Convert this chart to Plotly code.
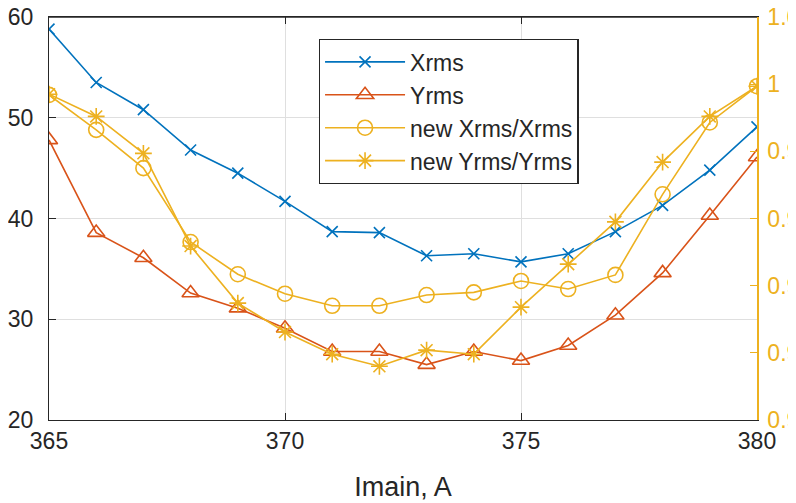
import plotly.graph_objects as go

imain = [365, 366, 367, 368, 369, 370, 371, 372, 373, 374, 375, 376, 377, 378, 379, 380]
xrms = [58.8, 53.5, 50.8, 46.8, 44.5, 41.7, 38.7, 38.6, 36.3, 36.5, 35.7, 36.5, 38.7, 41.3, 44.8, 49.1]
yrms = [47.8, 38.6, 36.1, 32.6, 31.1, 29.1, 26.8, 26.8, 25.5, 26.8, 25.9, 27.4, 30.4, 34.6, 40.3, 46.1]
new_x_ratio = [0.9984, 0.9932, 0.9875, 0.9765, 0.9717, 0.9688, 0.9670, 0.9670,
               0.9686, 0.9690, 0.9707, 0.9695, 0.9716, 0.9836, 0.9943, 0.9997]
new_y_ratio = [0.9985, 0.9952, 0.9897, 0.9759, 0.9674, 0.9631, 0.9598, 0.9580,
               0.9604, 0.9598, 0.9668, 0.9732, 0.9795, 0.9884, 0.9952, 0.9997]

left_ticks = [20, 30, 40, 50, 60]
right_ticks = [0.95, 0.96, 0.97, 0.98, 0.99, 1.0, 1.01]
right_labels = ["0.95", "0.96", "0.97", "0.98", "0.99", "1", "1.01"]
x_ticks = [365, 370, 375, 380]

BLUE = "#0072BD"
RED = "#D95319"
YEL = "#EDB120"
AX = "#262626"
FONT = "Liberation Sans, Arial, sans-serif"

fig = go.Figure()
fig.add_trace(go.Scatter(x=imain, y=xrms, name="Xrms", mode="lines+markers",
                         line=dict(color=BLUE, width=1.6),
                         marker=dict(symbol="x-thin-open", size=11, line=dict(color=BLUE, width=1.6))))
fig.add_trace(go.Scatter(x=imain, y=yrms, name="Yrms", mode="lines+markers",
                         line=dict(color=RED, width=1.6),
                         marker=dict(symbol="triangle-up-open", size=15, color=RED, line=dict(color=RED, width=1.6))))
fig.add_trace(go.Scatter(x=imain, y=new_x_ratio, name="new Xrms/Xrms", mode="lines+markers", yaxis="y2",
                         line=dict(color=YEL, width=1.6),
                         marker=dict(symbol="circle-open", size=15, color=YEL, line=dict(color=YEL, width=1.6))))
fig.add_trace(go.Scatter(x=imain, y=new_y_ratio, name="new Yrms/Yrms", mode="lines+markers", yaxis="y2",
                         line=dict(color=YEL, width=1.6),
                         marker=dict(symbol="asterisk-open", size=14, color=YEL, line=dict(color=YEL, width=1.6))))

fig.update_layout(
    width=796, height=503,
    margin=dict(l=41, r=47, t=9, b=91, autoexpand=False),
    paper_bgcolor="white", plot_bgcolor="white",
    font=dict(family=FONT, size=23, color=AX),
    xaxis=dict(range=[365, 380], tickvals=x_ticks, ticks="inside", ticklen=7, tickcolor=AX,
               showline=True, linecolor=AX, linewidth=1.3, mirror="ticks", automargin=False,
               showgrid=True, gridcolor="#dfdfdf", gridwidth=1, zeroline=False,
               tickfont=dict(size=23, color=AX), ticklabelstandoff=0, ticklabeloverflow="allow",
               title=dict(text="Imain, A", font=dict(size=27, color=AX), standoff=24)),
    yaxis=dict(range=[20, 60], tickvals=left_ticks, ticks="inside", ticklen=7, tickcolor=AX,
               showline=True, linecolor=AX, linewidth=1.3, automargin=False,
               showgrid=True, gridcolor="#dfdfdf", gridwidth=1, zeroline=False,
               tickfont=dict(size=23, color=AX), ticklabelstandoff=10, ticklabeloverflow="allow"),
    yaxis2=dict(range=[0.95, 1.01], overlaying="y", side="right", tickvals=right_ticks, ticktext=right_labels,
                ticks="inside", ticklen=7, tickcolor=YEL, automargin=False,
                showline=True, linecolor=YEL, linewidth=1.5, showgrid=False, zeroline=False,
                tickfont=dict(size=23, color=YEL), ticklabelstandoff=4, ticklabeloverflow="allow"),
    legend=dict(x=0.381, y=0.945, xanchor="left", yanchor="top",
                bgcolor="white", bordercolor=AX, borderwidth=1.3,
                font=dict(size=23, color=AX), itemwidth=80, tracegroupgap=0),
    showlegend=True,
)
fig.add_shape(type="line", xref="paper", yref="paper", x0=0, x1=1, y0=1, y1=1,
              line=dict(color=AX, width=1.3))

fig.write_html("out.html")
